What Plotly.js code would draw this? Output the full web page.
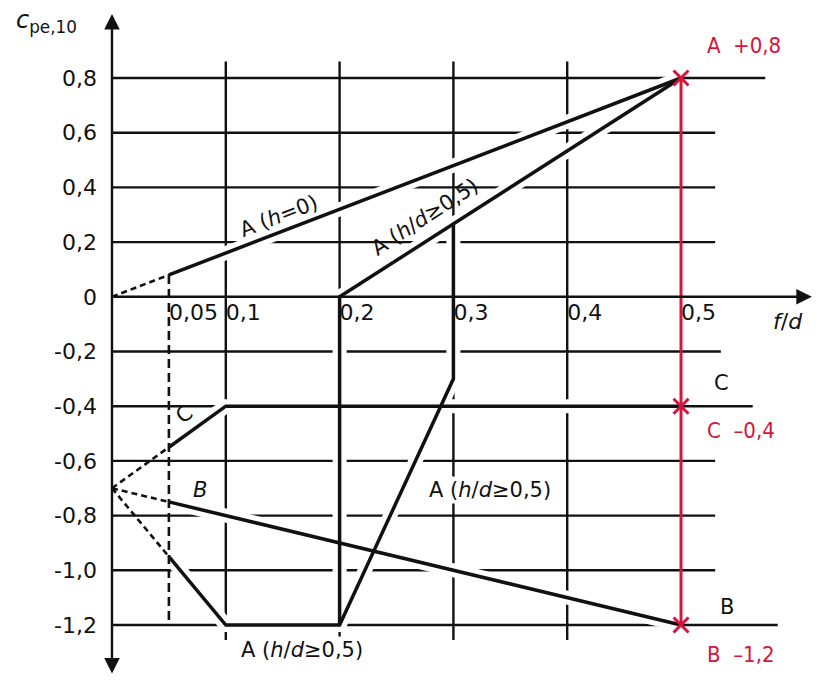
<!DOCTYPE html>
<html>
<head>
<meta charset="utf-8">
<script src="https://cdn.plot.ly/plotly-3.0.1.min.js"></script>
<style>
  html, body { margin: 0; padding: 0; background: #fff; }
  #chart { width: 826px; height: 680px; }
</style>
</head>
<body>
<div id="chart"></div>
<script>
// External pressure coefficient c_pe,10 against rise ratio f/d (vaulted roof)

// Zone A, h = 0
const fdA0 = [0.05, 0.5];
const cpeA0 = [0.08, 0.8];
const fdA0Ext = [0, 0.05];
const cpeA0Ext = [0, 0.08];

// Zone A, h/d >= 0,5 (upper and lower branches)
const fdAupper = [0.2, 0.2, 0.5];
const cpeAupper = [-1.2, 0, 0.8];
const fdAlower = [0.05, 0.1, 0.2, 0.3, 0.3];
const cpeAlower = [-0.95, -1.2, -1.2, -0.3, 0.27];

// Zone C
const fdC = [0.05, 0.1, 0.5];
const cpeC = [-0.55, -0.4, -0.4];

// Zone B
const fdB = [0.05, 0.5];
const cpeB = [-0.75, -1.2];

// Extrapolation towards f/d = 0 (dashed)
const fdExtStart = [0, 0.05];
const cpeExtC = [-0.7, -0.55];
const cpeExtB = [-0.7, -0.75];
const cpeExtA = [-0.7, -0.95];

// Dashed limit at f/d = 0,05
const fdLimit = [0.05, 0.05];
const cpeLimit = [0.08, -1.2];

// Read-off at f/d = 0,5
const fdRead = [0.5, 0.5, 0.5];
const cpeRead = [0.8, -0.4, -1.2];
const readLabels = ['A  +0,8', 'C  \u20130,4', 'B  \u20131,2'];

// Tick labels
const xTickVals = [0.05, 0.1, 0.2, 0.3, 0.4, 0.5];
const xTickText = ['0,05', '0,1', '0,2', '0,3', '0,4', '0,5'];
const yTickVals = [0.8, 0.6, 0.4, 0.2, 0, -0.2, -0.4, -0.6, -0.8, -1.0, -1.2];
const yTickText = ['0,8', '0,6', '0,4', '0,2', '0', '-0,2', '-0,4', '-0,6', '-0,8', '-1,0', '-1,2'];

// Grid layout (extent of the drawn grid)
const gridX = [0.1, 0.2, 0.3, 0.4];
const gridXTop = 0.86, gridXBottom = -1.255;
const gridY = [0.8, 0.6, 0.4, 0.2, -0.2, -0.4, -0.6, -0.8, -1.0, -1.2];
const gridYEnd = [0.574, 0.53, 0.53, 0.53, 0.535, 0.563, 0.53, 0.53, 0.53, 0.585];

const INK = '#111111';
const RED = '#d4153d';
const FONT = 'DejaVu Sans, Liberation Sans, Arial, sans-serif';
const REDFONT = 'DejaVu Sans Condensed, Liberation Sans Narrow, DejaVu Sans, sans-serif';

const shapes = [];
gridX.forEach(function (gx) {
  shapes.push({type: 'line', layer: 'below', xref: 'x', yref: 'y',
    x0: gx, x1: gx, y0: gridXTop, y1: gridXBottom,
    line: {color: INK, width: 2.4}});
});
gridY.forEach(function (gy, i) {
  shapes.push({type: 'line', layer: 'below', xref: 'x', yref: 'y',
    x0: 0, x1: gridYEnd[i], y0: gy, y1: gy,
    line: {color: INK, width: 2.4}});
});

function path(x, y, opts) {
  return Object.assign({
    type: 'scatter', mode: 'lines', x: x, y: y,
    hoverinfo: 'skip', showlegend: false
  }, opts);
}

const solid = [[fdA0, cpeA0], [fdAupper, cpeAupper], [fdAlower, cpeAlower], [fdC, cpeC], [fdB, cpeB]];
const traces = [];
// white casing so grid lines break where the curves cross them
solid.forEach(function (s) {
  traces.push(path(s[0], s[1], {line: {color: '#ffffff', width: 14}}));
});
solid.forEach(function (s) {
  traces.push(path(s[0], s[1], {line: {color: INK, width: 3.5}}));
});
traces.push(path(fdA0Ext, cpeA0Ext, {line: {color: INK, width: 2.6, dash: '6px,4px'}}));
traces.push(path(fdExtStart, cpeExtC, {line: {color: INK, width: 2.6, dash: '6px,4px'}}));
traces.push(path(fdExtStart, cpeExtB, {line: {color: INK, width: 2.6, dash: '6px,4px'}}));
traces.push(path(fdExtStart, cpeExtA, {line: {color: INK, width: 2.6, dash: '6px,4px'}}));
traces.push(path(fdLimit, cpeLimit, {line: {color: INK, width: 2.6, dash: '9px,5px'}}));
traces.push(path([fdRead[0], fdRead[2]], [cpeRead[0], cpeRead[2]], {line: {color: RED, width: 3}}));
traces.push({type: 'scatter', mode: 'markers', x: fdRead, y: cpeRead, hoverinfo: 'skip',
  showlegend: false,
  marker: {symbol: 'x-thin', size: 15, line: {color: RED, width: 3}}});

const annotations = [];
// axes with arrow heads
annotations.push({x: 0.615, y: 0, ax: 0, ay: 0, xref: 'x', yref: 'y', axref: 'x', ayref: 'y',
  text: '', showarrow: true, arrowhead: 2, arrowsize: 1.3, arrowwidth: 2.4, arrowcolor: INK});
annotations.push({x: 0, y: 1.034, ax: 0, ay: -1.383, xref: 'x', yref: 'y', axref: 'x', ayref: 'y',
  text: '', showarrow: true, arrowhead: 2, startarrowhead: 2, arrowside: 'end+start',
  arrowsize: 1.3, startarrowsize: 1.3, arrowwidth: 2.4, arrowcolor: INK});

function label(text, x, y, extra) {
  return Object.assign({x: x, y: y, xref: 'x', yref: 'y', text: text, showarrow: false,
    font: {family: FONT, size: 21, color: INK}}, extra || {});
}
annotations.push(label('A (<i>h</i>=0)', 0.147, 0.295, {textangle: -21}));
annotations.push(label('A (<i>h</i>/<i>d</i>\u22650,5)', 0.275, 0.29, {textangle: -33}));
annotations.push(label('A (<i>h</i>/<i>d</i>\u22650,5)', 0.332, -0.707, {bgcolor: '#ffffff'}));
annotations.push(label('A (<i>h</i>/<i>d</i>\u22650,5)', 0.167, -1.29, {bgcolor: '#ffffff'}));
annotations.push(label('C', 0.064, -0.43, {textangle: -35}));
annotations.push(label('<i>B</i>', 0.077, -0.707));
annotations.push(label('C', 0.536, -0.316));
annotations.push(label('B', 0.540, -1.134));
annotations.push(label('<i>f</i>/<i>d</i>', 0.594, -0.092, {font: {family: FONT, size: 22, color: INK}}));
annotations.push(label('<i>c</i><sub>pe,10</sub>', -0.1185, 1.005,
  {xref: 'paper', xanchor: 'left', font: {family: FONT, size: 24, color: INK}}));

// read-off values
const readY = [0.92, -0.488, -1.309];
readLabels.forEach(function (t, i) {
  annotations.push({x: 0.521, y: readY[i], xref: 'x', yref: 'y', text: t, showarrow: false,
    xanchor: 'left', font: {family: REDFONT, size: 22, color: RED}});
});

const layout = {
  width: 826, height: 680,
  margin: {l: 100, r: 0, t: 0, b: 0},
  paper_bgcolor: '#ffffff', plot_bgcolor: '#ffffff',
  showlegend: false,
  xaxis: {
    range: [-0.01054, 0.6274], showgrid: false, zeroline: false, showline: false,
    tickvals: xTickVals, ticktext: xTickText, ticks: '',
    ticklabelposition: 'outside right', anchor: 'free', position: 0.5635,
    tickfont: {family: FONT, size: 22, color: INK}, fixedrange: true
  },
  yaxis: {
    range: [-1.4011, 1.0852], showgrid: false, zeroline: false, showline: false,
    tickvals: yTickVals, ticktext: yTickText, ticks: '', ticklabelstandoff: 2,
    tickfont: {family: FONT, size: 22, color: INK}, fixedrange: true
  },
  shapes: shapes,
  annotations: annotations
};

Plotly.newPlot('chart', traces, layout, {staticPlot: true, displayModeBar: false});
</script>
</body>
</html>
